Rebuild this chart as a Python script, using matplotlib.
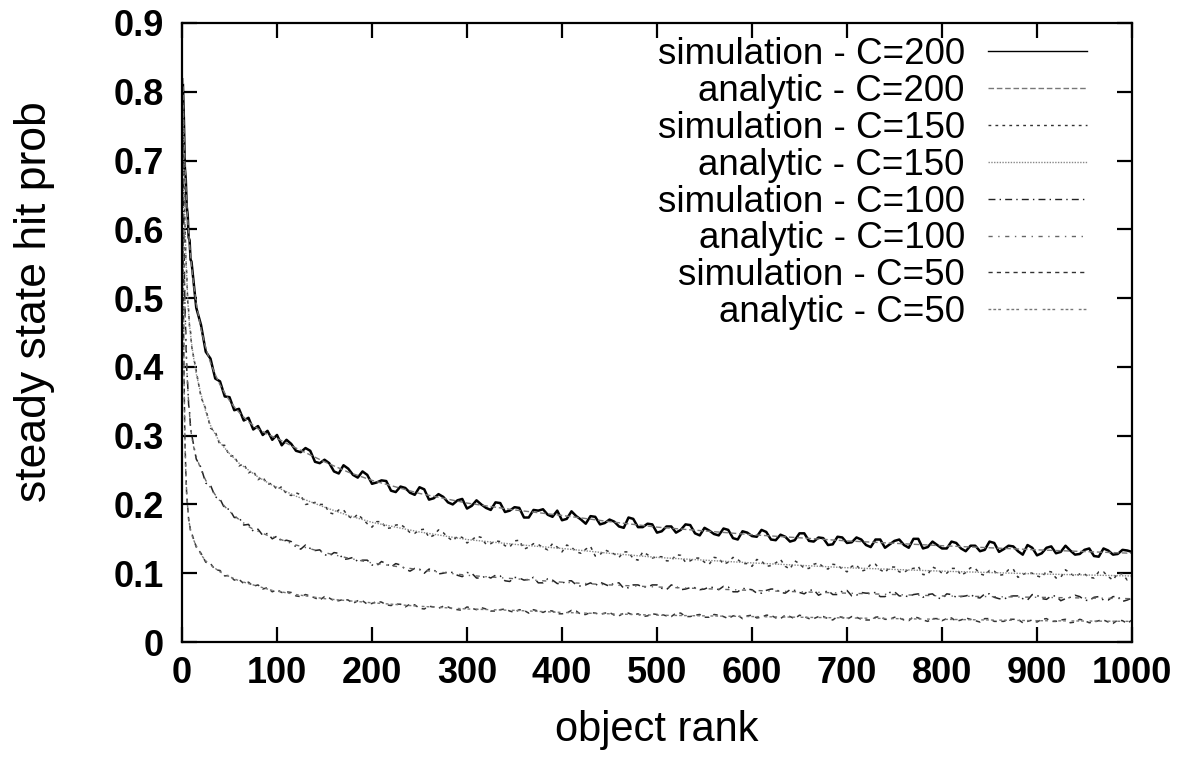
import matplotlib
matplotlib.use("Agg")
import matplotlib.pyplot as plt

plt.rcParams['font.family'] = ['Liberation Sans', 'DejaVu Sans']

# ---------------- data ----------------
ana_ranks = [1, 2, 3, 4, 5, 6, 7, 8, 9, 10, 12, 15, 20, 25, 30, 35, 40, 45, 50, 55, 60, 65, 70, 75,
             80, 85, 90, 95, 100, 120, 150, 175, 200, 250, 300, 350, 400, 450, 500, 600, 700,
             800, 900, 1000]

ana_c200 = [0.82, 0.75, 0.70, 0.665, 0.64, 0.615, 0.595, 0.578, 0.562, 0.548, 0.522, 0.492, 0.455,
            0.428, 0.406, 0.389, 0.374, 0.362, 0.351, 0.342, 0.334, 0.327, 0.320, 0.315, 0.310,
            0.306, 0.302, 0.299, 0.296, 0.282, 0.262, 0.247, 0.235, 0.216, 0.202, 0.192, 0.184,
            0.175, 0.167, 0.156, 0.147, 0.140, 0.134, 0.129]
ana_c150 = [0.78, 0.68, 0.61, 0.565, 0.53, 0.50, 0.478, 0.46, 0.447, 0.435, 0.415, 0.39, 0.36,
            0.335, 0.315, 0.302, 0.29, 0.282, 0.274, 0.267, 0.26, 0.255, 0.25, 0.245, 0.24,
            0.236, 0.232, 0.228, 0.225, 0.212, 0.196, 0.184, 0.174, 0.160, 0.149, 0.142, 0.136,
            0.129, 0.123, 0.115, 0.108, 0.103, 0.099, 0.096]
ana_c100 = [0.72, 0.58, 0.50, 0.44, 0.40, 0.37, 0.348, 0.33, 0.314, 0.30, 0.285, 0.27, 0.25,
            0.235, 0.224, 0.214, 0.205, 0.197, 0.19, 0.184, 0.178, 0.173, 0.168, 0.164, 0.161,
            0.158, 0.155, 0.153, 0.151, 0.141, 0.130, 0.122, 0.115, 0.105, 0.097, 0.092, 0.087,
            0.083, 0.080, 0.075, 0.071, 0.067, 0.065, 0.063]
ana_c50 = [0.60, 0.40, 0.30, 0.245, 0.215, 0.195, 0.18, 0.17, 0.163, 0.157, 0.149, 0.14, 0.127,
           0.118, 0.112, 0.107, 0.102, 0.098, 0.095, 0.092, 0.089, 0.087, 0.085, 0.083, 0.081,
           0.079, 0.077, 0.075, 0.074, 0.069, 0.063, 0.060, 0.057, 0.052, 0.048, 0.046, 0.043,
           0.041, 0.039, 0.037, 0.035, 0.033, 0.031, 0.030]

# simulation samples on the main grid
sim_ranks = (list(range(1, 11)) + list(range(15, 101, 5)) + list(range(110, 1001, 10)))
# extra simulation samples between the main grid points
sim_mid_ranks = list(range(105, 1000, 10))

sim_c200 = [0.81, 0.76, 0.69, 0.672, 0.633, 0.621, 0.588, 0.584, 0.556, 0.553,
            0.486, 0.461, 0.422, 0.412, 0.383, 0.379, 0.357, 0.356, 0.337, 0.339, 0.322, 0.326,
            0.309, 0.314, 0.301, 0.307, 0.294, 0.301,
            0.294, 0.278, 0.282, 0.262, 0.265, 0.248, 0.257, 0.243, 0.248, 0.230,
            0.235, 0.220, 0.226, 0.217, 0.225, 0.207, 0.215, 0.203, 0.206, 0.194,
            0.206, 0.195, 0.203, 0.189, 0.196, 0.181, 0.192, 0.193, 0.182, 0.177,
            0.190, 0.178, 0.183, 0.171, 0.178, 0.168, 0.181, 0.167, 0.172, 0.159,
            0.168, 0.159, 0.171, 0.158, 0.166, 0.157, 0.165, 0.151, 0.161, 0.154,
            0.163, 0.149, 0.156, 0.146, 0.158, 0.147, 0.152, 0.141, 0.153, 0.144,
            0.152, 0.141, 0.149, 0.137, 0.147, 0.141, 0.150, 0.136, 0.146, 0.136,
            0.146, 0.136, 0.140, 0.132, 0.146, 0.131, 0.140, 0.132, 0.141, 0.126,
            0.137, 0.129, 0.140, 0.127, 0.134, 0.125, 0.136, 0.127, 0.134, 0.131]
sim_c200_mid = [0.286, 0.288, 0.276, 0.278, 0.260, 0.260, 0.245, 0.252, 0.239, 0.243,
                0.232, 0.234, 0.218, 0.224, 0.214, 0.222, 0.209, 0.211, 0.200, 0.208,
                0.198, 0.200, 0.192, 0.202, 0.191, 0.195, 0.181, 0.191, 0.185, 0.191,
                0.179, 0.183, 0.172, 0.182, 0.173, 0.175, 0.166, 0.179, 0.167, 0.171,
                0.161, 0.168, 0.163, 0.170, 0.155, 0.162, 0.155, 0.163, 0.149, 0.159,
                0.153, 0.160, 0.148, 0.153, 0.148, 0.158, 0.146, 0.151, 0.142, 0.152,
                0.145, 0.149, 0.138, 0.149, 0.142, 0.149, 0.137, 0.150, 0.138, 0.141,
                0.136, 0.144, 0.132, 0.140, 0.134, 0.144, 0.135, 0.139, 0.127, 0.137,
                0.129, 0.139, 0.131, 0.133, 0.128, 0.136, 0.124, 0.133, 0.128, 0.133]
sim_c150 = [0.785, 0.674, 0.616, 0.559, 0.535, 0.495, 0.482, 0.456, 0.451, 0.431,
            0.394, 0.356, 0.339, 0.311, 0.306, 0.286, 0.286, 0.270, 0.271, 0.256, 0.259, 0.246,
            0.249, 0.236, 0.240, 0.229, 0.231, 0.221,
            0.215, 0.217, 0.200, 0.203, 0.200, 0.186, 0.192, 0.179, 0.179, 0.167,
            0.175, 0.166, 0.171, 0.159, 0.163, 0.152, 0.163, 0.152, 0.154, 0.144,
            0.154, 0.142, 0.147, 0.140, 0.147, 0.135, 0.143, 0.137, 0.143, 0.131,
            0.138, 0.129, 0.139, 0.127, 0.131, 0.123, 0.131, 0.119, 0.127, 0.124,
            0.118, 0.127, 0.116, 0.122, 0.116, 0.123, 0.113, 0.123, 0.114, 0.110,
            0.118, 0.111, 0.120, 0.106, 0.114, 0.107, 0.115, 0.106, 0.112, 0.102,
            0.112, 0.105, 0.113, 0.101, 0.109, 0.101, 0.107, 0.098, 0.109, 0.100,
            0.107, 0.097, 0.108, 0.099, 0.104, 0.097, 0.105, 0.094, 0.101, 0.096,
            0.103, 0.093, 0.105, 0.095, 0.099, 0.093, 0.102, 0.090, 0.099, 0.094]
sim_c150_mid = [0.226, 0.213, 0.214, 0.201, 0.200, 0.188, 0.192, 0.183, 0.186, 0.172,
                0.175, 0.165, 0.170, 0.166, 0.158, 0.164, 0.155, 0.159, 0.147, 0.152,
                0.148, 0.152, 0.143, 0.146, 0.138, 0.148, 0.138, 0.142, 0.134, 0.138,
                0.141, 0.131, 0.135, 0.125, 0.134, 0.128, 0.131, 0.121, 0.131, 0.122,
                0.124, 0.118, 0.126, 0.118, 0.122, 0.113, 0.122, 0.116, 0.120, 0.114,
                0.120, 0.110, 0.115, 0.110, 0.118, 0.107, 0.113, 0.109, 0.113, 0.106,
                0.110, 0.103, 0.113, 0.105, 0.109, 0.102, 0.106, 0.110, 0.098, 0.106,
                0.100, 0.107, 0.101, 0.107, 0.097, 0.103, 0.098, 0.106, 0.098, 0.100,
                0.094, 0.102, 0.094, 0.100, 0.099, 0.094, 0.102, 0.095, 0.100, 0.090]
sim_c100 = [0.725, 0.585, 0.495, 0.444, 0.397, 0.374, 0.345, 0.334, 0.311, 0.303,
            0.266, 0.254, 0.231, 0.228, 0.211, 0.208, 0.194, 0.193, 0.181, 0.181, 0.170, 0.171,
            0.161, 0.164, 0.155, 0.158, 0.150, 0.154,
            0.148, 0.138, 0.141, 0.133, 0.127, 0.130, 0.120, 0.123, 0.119, 0.112,
            0.117, 0.109, 0.112, 0.103, 0.106, 0.106, 0.099, 0.102, 0.097, 0.101,
            0.093, 0.096, 0.097, 0.089, 0.094, 0.090, 0.094, 0.086, 0.090, 0.085,
            0.089, 0.081, 0.086, 0.087, 0.081, 0.086, 0.079, 0.083, 0.080, 0.083,
            0.076, 0.081, 0.077, 0.079, 0.077, 0.079, 0.081, 0.073, 0.078, 0.076,
            0.071, 0.077, 0.072, 0.076, 0.072, 0.075, 0.068, 0.075, 0.069, 0.075,
            0.068, 0.071, 0.072, 0.066, 0.073, 0.067, 0.069, 0.065, 0.070, 0.063,
            0.069, 0.066, 0.069, 0.064, 0.070, 0.063, 0.066, 0.067, 0.061, 0.068,
            0.062, 0.067, 0.063, 0.068, 0.061, 0.065, 0.061, 0.066, 0.059, 0.064]
sim_c100_mid = [0.146, 0.146, 0.135, 0.136, 0.134, 0.125, 0.129, 0.121, 0.117, 0.119,
                0.111, 0.114, 0.114, 0.106, 0.107, 0.100, 0.105, 0.100, 0.101, 0.095,
                0.100, 0.093, 0.093, 0.096, 0.088, 0.093, 0.091, 0.086, 0.092, 0.085,
                0.089, 0.083, 0.083, 0.082, 0.084, 0.086, 0.078, 0.083, 0.080, 0.083,
                0.078, 0.083, 0.076, 0.079, 0.076, 0.080, 0.076, 0.080, 0.073, 0.077,
                0.071, 0.075, 0.077, 0.071, 0.075, 0.070, 0.076, 0.071, 0.069, 0.074,
                0.067, 0.072, 0.071, 0.066, 0.072, 0.067, 0.066, 0.070, 0.069, 0.064,
                0.070, 0.065, 0.067, 0.065, 0.070, 0.065, 0.062, 0.067, 0.063, 0.069,
                0.063, 0.067, 0.060, 0.065, 0.066, 0.060, 0.066, 0.061, 0.066, 0.061]
sim_c50 = [0.595, 0.405, 0.297, 0.248, 0.212, 0.197, 0.178, 0.172, 0.161, 0.159,
           0.138, 0.129, 0.116, 0.114, 0.105, 0.104, 0.096, 0.097, 0.090, 0.091, 0.085, 0.087,
           0.081, 0.083, 0.077, 0.079, 0.073, 0.076,
           0.073, 0.067, 0.069, 0.064, 0.066, 0.060, 0.062, 0.056, 0.060, 0.056,
           0.058, 0.053, 0.055, 0.055, 0.049, 0.052, 0.049, 0.051, 0.047, 0.051,
           0.047, 0.048, 0.045, 0.048, 0.043, 0.046, 0.047, 0.043, 0.045, 0.041,
           0.046, 0.040, 0.043, 0.040, 0.043, 0.038, 0.042, 0.041, 0.038, 0.040,
           0.038, 0.042, 0.037, 0.039, 0.036, 0.040, 0.037, 0.038, 0.034, 0.039,
           0.036, 0.039, 0.034, 0.037, 0.039, 0.034, 0.037, 0.034, 0.037, 0.033,
           0.036, 0.032, 0.036, 0.033, 0.036, 0.032, 0.037, 0.032, 0.034, 0.031,
           0.035, 0.032, 0.033, 0.029, 0.034, 0.030, 0.033, 0.033, 0.030, 0.029,
           0.034, 0.030, 0.033, 0.029, 0.031, 0.029, 0.032, 0.027, 0.031, 0.032]
sim_c50_mid = [0.072, 0.072, 0.066, 0.067, 0.061, 0.064, 0.060, 0.061, 0.060, 0.055,
               0.059, 0.054, 0.055, 0.051, 0.054, 0.048, 0.051, 0.052, 0.048, 0.046,
               0.049, 0.050, 0.045, 0.047, 0.045, 0.047, 0.042, 0.045, 0.046, 0.041,
               0.042, 0.045, 0.040, 0.042, 0.042, 0.039, 0.042, 0.039, 0.037, 0.041,
               0.040, 0.037, 0.042, 0.037, 0.040, 0.036, 0.039, 0.034, 0.039, 0.038,
               0.035, 0.039, 0.035, 0.039, 0.034, 0.037, 0.034, 0.037, 0.032, 0.036,
               0.037, 0.033, 0.032, 0.037, 0.033, 0.035, 0.031, 0.035, 0.030, 0.034,
               0.034, 0.030, 0.035, 0.031, 0.034, 0.030, 0.030, 0.033, 0.028, 0.032,
               0.033, 0.030, 0.032, 0.028, 0.033, 0.028, 0.031, 0.029, 0.032, 0.027]

labels = ["simulation - C=200", "analytic - C=200",
          "simulation - C=150", "analytic - C=150",
          "simulation - C=100", "analytic - C=100",
          "simulation - C=50", "analytic - C=50"]

x_ticks = [0, 100, 200, 300, 400, 500, 600, 700, 800, 900, 1000]
y_ticks = [0, 0.1, 0.2, 0.3, 0.4, 0.5, 0.6, 0.7, 0.8, 0.9]
y_tick_labels = ["0", "0.1", "0.2", "0.3", "0.4", "0.5", "0.6", "0.7", "0.8", "0.9"]


def merged(r1, v1, r2, v2):
    pts = sorted(zip(r1 + r2, v1 + v2))
    return [p[0] for p in pts], [p[1] for p in pts]


# ---------------- figure ----------------
fig = plt.figure(figsize=(11.86, 7.59), dpi=100)
ax = fig.add_axes([182 / 1186, 1 - 642 / 759, (1132 - 182) / 1186, (642 - 23) / 759])

series = [
    (merged(sim_ranks, sim_c200, sim_mid_ranks, sim_c200_mid), dict(color="black", lw=1.8, ls="-")),
    ((ana_ranks, ana_c200), dict(color="#777777", lw=1.0, ls=(0, (4, 2)))),
    (merged(sim_ranks, sim_c150, sim_mid_ranks, sim_c150_mid), dict(color="#333333", lw=1.1, ls=(0, (2, 3)))),
    ((ana_ranks, ana_c150), dict(color="#888888", lw=1.0, ls=(0, (1, 1)))),
    (merged(sim_ranks, sim_c100, sim_mid_ranks, sim_c100_mid), dict(color="#222222", lw=1.1, ls=(0, (5, 3, 1, 3)))),
    ((ana_ranks, ana_c100), dict(color="#666666", lw=1.0, ls=(0, (3, 4, 1, 4)))),
    (merged(sim_ranks, sim_c50, sim_mid_ranks, sim_c50_mid), dict(color="#333333", lw=1.1, ls=(0, (3, 3)))),
    ((ana_ranks, ana_c50), dict(color="#777777", lw=1.0, ls=(0, (2, 1.5, 2, 1.5, 2, 4)))),
]
for ((xs, ys), st), lab in zip(series, labels):
    ax.plot(xs, ys, label=lab, **st)

ax.set_xlim(0, 1000)
ax.set_ylim(0, 0.9)
ax.set_xticks(x_ticks)
ax.set_xticklabels([str(t) for t in x_ticks])
ax.set_yticks(y_ticks)
ax.set_yticklabels(y_tick_labels)
ax.tick_params(direction="in", length=11, width=1.6, top=True, right=True,
               labelsize=26)
ax.tick_params(axis="x", pad=10)
ax.tick_params(axis="y", pad=13)
for t in ax.get_xticklabels() + ax.get_yticklabels():
    t.set_fontweight("bold")
for s in ax.spines.values():
    s.set_linewidth(1.6)

ax.set_xlabel("object rank", fontsize=30, labelpad=14)
ax.set_ylabel("steady state hit prob", fontsize=32)
ax.yaxis.set_label_coords((55 - 182) / 950, (642 - 302) / 619)

leg = ax.legend(loc="upper right", bbox_to_anchor=(0.9526, 0.977), frameon=False,
                markerfirst=False, fontsize=26.5, handlelength=2.7, handletextpad=0.62,
                labelspacing=0.05, borderpad=0, borderaxespad=0)
for h in leg.get_lines():
    h.set_linewidth(1.0)

fig.savefig("out.png", dpi=100)
